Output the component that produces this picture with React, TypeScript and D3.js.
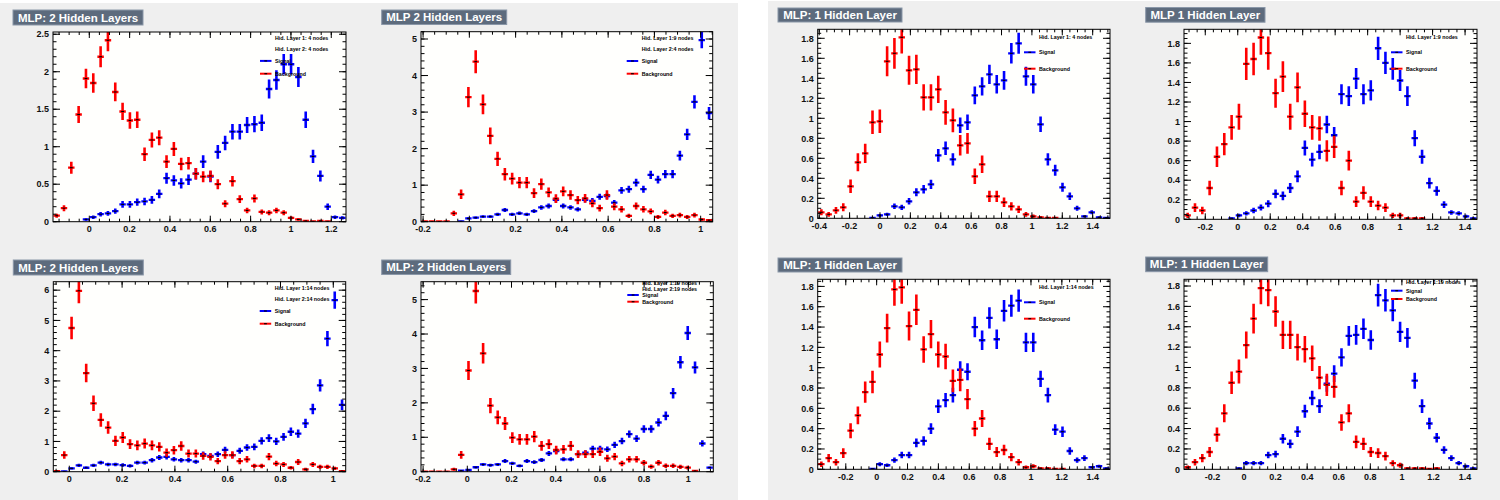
import React from "react";
import * as d3 from "d3";

// MLP response histograms: 40 bins each, normalised to unit area.
// Two hidden layers, 4 + 4 nodes
const mlp2x4Range = [-0.18, 1.273];
const mlp2x4Signal = [0, 0, 0, 0, 0.03, 0.06, 0.1, 0.11, 0.14, 0.23, 0.23, 0.26, 0.27, 0.29, 0.37, 0.58, 0.55, 0.51, 0.56, 0.64, 0.8, 0.6, 0.93, 1.05, 1.2, 1.2, 1.29, 1.3, 1.32, 1.77, 1.89, 2.1, 2.1, 1.93, 1.36, 0.87, 0.61, 0.2, 0.06, 0.05];
const mlp2x4Background = [0.08, 0.18, 0.72, 1.43, 1.91, 1.85, 2.2, 2.42, 1.73, 1.47, 1.35, 1.36, 0.9, 1.09, 1.12, 0.8, 0.97, 0.77, 0.78, 0.64, 0.6, 0.61, 0.5, 0.24, 0.54, 0.3, 0.15, 0.31, 0.13, 0.12, 0.15, 0.12, 0.05, 0.03, 0.01, 0.004, 0.01, 0.004, 0, 0];
const mlp2x4Entries = [3050, 3050];

// Two hidden layers, 9 + 4 nodes
const mlp2x9Range = [-0.209, 1.052];
const mlp2x9Signal = [0, 0, 0, 0, 0, 0.01, 0.09, 0.11, 0.14, 0.14, 0.2, 0.32, 0.2, 0.23, 0.2, 0.29, 0.39, 0.43, 0.6, 0.43, 0.39, 0.34, 0.6, 0.57, 0.68, 0.7, 0.52, 0.86, 0.89, 1.07, 0.89, 1.28, 1.15, 1.3, 1.3, 1.81, 2.39, 3.28, 4.97, 2.97];
const mlp2x9Background = [0.005, 0.005, 0.005, 0.005, 0.23, 0.75, 3.41, 4.38, 3.21, 2.35, 1.72, 1.3, 1.18, 1.07, 1.07, 0.78, 1.03, 0.8, 0.63, 0.83, 0.73, 0.59, 0.64, 0.5, 0.37, 0.73, 0.41, 0.34, 0.16, 0.43, 0.34, 0.28, 0.13, 0.25, 0.16, 0.18, 0.13, 0.18, 0.06, 0.04];
const mlp2x9Entries = [3170, 1410];

// Two hidden layers, 14 + 14 nodes
const mlp2x14Range = [-0.0606, 1.047];
const mlp2x14Signal = [0.005, 0.01, 0.11, 0.21, 0.13, 0.21, 0.3, 0.24, 0.24, 0.22, 0.19, 0.3, 0.3, 0.38, 0.47, 0.49, 0.41, 0.38, 0.38, 0.33, 0.58, 0.52, 0.58, 0.72, 0.55, 0.69, 0.8, 0.82, 1.02, 1.11, 1.0, 1.15, 1.32, 1.26, 1.6, 2.07, 2.85, 4.4, 5.67, 2.21];
const mlp2x14Background = [0.02, 0.55, 4.75, 5.98, 3.26, 2.26, 1.71, 1.46, 1.02, 1.13, 0.91, 0.87, 0.93, 0.87, 0.82, 0.63, 0.71, 0.85, 0.6, 0.6, 0.52, 0.49, 0.35, 0.55, 0.55, 0.35, 0.41, 0.19, 0.19, 0.5, 0.27, 0.24, 0.13, 0.32, 0.08, 0.24, 0.16, 0.16, 0.11, 0.02];
const mlp2x14Entries = [2510, 1250];

// Two hidden layers, 19 + 19 nodes
const mlp2x19Range = [-0.2095, 1.113];
const mlp2x19Signal = [0, 0, 0, 0, 0, 0.03, 0.05, 0.13, 0.21, 0.19, 0.21, 0.31, 0.24, 0.17, 0.31, 0.28, 0.34, 0.53, 0.6, 0.36, 0.36, 0.51, 0.55, 0.67, 0.67, 0.65, 0.78, 0.89, 1.09, 0.96, 1.24, 1.24, 1.43, 1.62, 2.28, 3.18, 4.03, 3.03, 0.82, 0.12];
const mlp2x19Background = [0.005, 0.005, 0.005, 0.005, 0.07, 0.49, 2.94, 5.25, 3.44, 1.92, 1.58, 1.4, 0.99, 0.94, 0.94, 1.02, 0.75, 0.8, 0.63, 0.65, 0.75, 0.51, 0.51, 0.51, 0.58, 0.39, 0.44, 0.24, 0.36, 0.36, 0.26, 0.15, 0.26, 0.17, 0.17, 0.14, 0.12, 0.02, 0, 0];
const mlp2x19Entries = [3030, 1180];

// One hidden layer, 4 nodes
const mlp1x4Range = [-0.41, 1.514];
const mlp1x4Signal = [0, 0, 0, 0, 0, 0, 0, 0.005, 0.03, 0.04, 0.12, 0.11, 0.17, 0.26, 0.29, 0.34, 0.63, 0.7, 0.59, 0.93, 0.96, 1.23, 1.32, 1.44, 1.34, 1.38, 1.65, 1.75, 1.42, 1.34, 0.94, 0.59, 0.48, 0.31, 0.22, 0.1, 0.02, 0.06, 0.01, 0.005];
const mlp1x4Background = [0.06, 0.04, 0.08, 0.11, 0.32, 0.56, 0.65, 0.96, 0.97, 1.57, 1.65, 1.81, 1.48, 1.49, 1.21, 1.21, 1.29, 1.06, 0.98, 0.73, 0.75, 0.42, 0.54, 0.22, 0.22, 0.16, 0.12, 0.09, 0.04, 0.02, 0.01, 0.004, 0.003, 0, 0, 0, 0, 0, 0, 0];
const mlp1x4Entries = [3260, 1450];

// One hidden layer, 9 nodes
const mlp1x9Range = [-0.331, 1.4735];
const mlp1x9Signal = [0, 0, 0, 0, 0, 0, 0.01, 0.04, 0.06, 0.09, 0.12, 0.16, 0.26, 0.24, 0.32, 0.44, 0.73, 0.61, 0.69, 0.97, 0.86, 1.28, 1.26, 1.44, 1.28, 1.32, 1.75, 1.6, 1.54, 1.42, 1.26, 0.83, 0.64, 0.37, 0.29, 0.15, 0.07, 0.06, 0.03, 0.01];
const mlp1x9Background = [0.04, 0.12, 0.09, 0.32, 0.64, 0.77, 0.94, 1.05, 1.59, 1.64, 1.86, 1.7, 1.29, 1.46, 1.05, 1.35, 1.08, 0.94, 0.93, 0.7, 0.74, 0.32, 0.6, 0.18, 0.27, 0.18, 0.14, 0.12, 0.04, 0.04, 0.01, 0.01, 0.01, 0, 0, 0, 0, 0, 0, 0];
const mlp1x9Entries = [2740, 1310];

// One hidden layer, 14 nodes
const mlp1x14Range = [-0.382, 1.512];
const mlp1x14Signal = [0, 0, 0, 0, 0, 0, 0, 0.005, 0.05, 0.04, 0.09, 0.14, 0.14, 0.26, 0.28, 0.4, 0.62, 0.68, 0.73, 0.98, 0.96, 1.4, 1.27, 1.49, 1.28, 1.56, 1.61, 1.66, 1.25, 1.25, 0.89, 0.73, 0.39, 0.37, 0.18, 0.09, 0.11, 0.02, 0.03, 0.01];
const mlp1x14Background = [0.05, 0.11, 0.07, 0.16, 0.38, 0.53, 0.76, 0.86, 1.13, 1.39, 1.77, 1.79, 1.41, 1.57, 1.18, 1.33, 1.13, 1.11, 0.87, 0.88, 0.69, 0.4, 0.5, 0.25, 0.17, 0.19, 0.12, 0.07, 0.02, 0.03, 0.01, 0.01, 0.003, 0.005, 0, 0, 0, 0, 0, 0];
const mlp1x14Entries = [2920, 1470];

// One hidden layer, 19 nodes
const mlp1x19Range = [-0.38, 1.4756];
const mlp1x19Signal = [0, 0, 0, 0, 0, 0, 0, 0.01, 0.06, 0.06, 0.06, 0.14, 0.15, 0.3, 0.25, 0.37, 0.57, 0.7, 0.62, 0.84, 0.94, 1.1, 1.31, 1.32, 1.38, 1.27, 1.71, 1.66, 1.56, 1.35, 1.29, 0.87, 0.62, 0.45, 0.31, 0.19, 0.11, 0.06, 0.03, 0.01];
const mlp1x19Background = [0.02, 0.07, 0.11, 0.17, 0.34, 0.55, 0.85, 0.96, 1.22, 1.48, 1.78, 1.76, 1.55, 1.32, 1.32, 1.2, 1.18, 1.09, 0.9, 0.83, 0.81, 0.46, 0.55, 0.27, 0.25, 0.17, 0.16, 0.13, 0.06, 0.04, 0.01, 0.01, 0.01, 0.003, 0.01, 0, 0, 0, 0, 0];
const mlp1x19Entries = [2980, 1500];

const SERIES_NAMES = ["Signal", "Background"];

const C_CANVAS = "#efefef";
const C_TITLE_BOX = "#5D6B7D";
const C_TITLE_BORDER = "#8a97a8";
const C_SIGNAL = "#0000ff";
const C_BACKGROUND = "#ff0000";
const FONT = "'Liberation Sans', Arial, Helvetica, sans-serif";

type PanelSpec = {
  title: string;
  titleBox: number[]; // x, y, w, h
  frame: number[]; // x0, y0, x1, y1
  range: number[];
  yMax: number;
  yStep: number;
  yMinor: number;
  signal: number[];
  background: number[];
  entries: number[];
  headers: string[];
  legendRows: number[]; // offsets from frame top
};

const PANELS: PanelSpec[] = [
  {
    title: "MLP: 2 Hidden Layers", titleBox: [13, 10, 130, 15], frame: [53, 32, 346, 221.7],
    range: mlp2x4Range, yMax: 2.53, yStep: 0.5, yMinor: 5,
    signal: mlp2x4Signal, background: mlp2x4Background, entries: mlp2x4Entries,
    headers: ["Hid. Layer 1: 4 nodes", "Hid. Layer 2: 4 nodes"], legendRows: [5.7, 17.3, 28.9, 41.7],
  },
  {
    title: "MLP 2 Hidden Layers", titleBox: [381.7, 10, 125, 14.5], frame: [421, 31.7, 712.7, 221.7],
    range: mlp2x9Range, yMax: 5.2, yStep: 1, yMinor: 5,
    signal: mlp2x9Signal, background: mlp2x9Background, entries: mlp2x9Entries,
    headers: ["Hid. Layer 1:9 nodes", "Hid. Layer 2:4 nodes"], legendRows: [6, 17.6, 29.3, 42],
  },
  {
    title: "MLP: 2 Hidden Layers", titleBox: [13.3, 260, 130, 15], frame: [53.3, 281.7, 345.7, 471.7],
    range: mlp2x14Range, yMax: 6.28, yStep: 1, yMinor: 5,
    signal: mlp2x14Signal, background: mlp2x14Background, entries: mlp2x14Entries,
    headers: ["Hid. Layer 1:14 nodes", "Hid. Layer 2:14 nodes"], legendRows: [6, 17.6, 29.3, 42],
  },
  {
    title: "MLP: 2 Hidden Layers", titleBox: [381.7, 260, 129, 14.5], frame: [421, 281.7, 713.3, 471.7],
    range: mlp2x19Range, yMax: 5.52, yStep: 1, yMinor: 5,
    signal: mlp2x19Signal, background: mlp2x19Background, entries: mlp2x19Entries,
    headers: ["Hid. Layer 1:19 nodes", "Hid. Layer 2:19 nodes"], legendRows: [1.6, 7.6, 13.3, 20],
  },
  {
    title: "MLP: 1 Hidden Layer", titleBox: [778, 8, 124, 14], frame: [817.7, 29.3, 1110, 218.3],
    range: mlp1x4Range, yMax: 1.89, yStep: 0.2, yMinor: 4,
    signal: mlp1x4Signal, background: mlp1x4Background, entries: mlp1x4Entries,
    headers: ["Hid. Layer 1: 4 nodes"], legendRows: [8, 23, 39.4],
  },
  {
    title: "MLP 1 Hidden Layer", titleBox: [1145.7, 7.5, 119.3, 14.7], frame: [1184, 29.3, 1477, 219.3],
    range: mlp1x9Range, yMax: 1.944, yStep: 0.2, yMinor: 4,
    signal: mlp1x9Signal, background: mlp1x9Background, entries: mlp1x9Entries,
    headers: ["Hid. Layer 1:9 nodes"], legendRows: [8, 23, 39.4],
  },
  {
    title: "MLP: 1 Hidden Layer", titleBox: [778, 258, 124, 14], frame: [817.7, 279.3, 1110, 469.3],
    range: mlp1x14Range, yMax: 1.87, yStep: 0.2, yMinor: 4,
    signal: mlp1x14Signal, background: mlp1x14Background, entries: mlp1x14Entries,
    headers: ["Hid. Layer 1:14 nodes"], legendRows: [8, 23, 39.4],
  },
  {
    title: "MLP: 1 Hidden Layer", titleBox: [1145.7, 257, 122, 14.7], frame: [1184, 279.3, 1477, 469.3],
    range: mlp1x19Range, yMax: 1.866, yStep: 0.2, yMinor: 4,
    signal: mlp1x19Signal, background: mlp1x19Background, entries: mlp1x19Entries,
    headers: ["Hid. Layer 1:19 nodes"], legendRows: [2.4, 11.4, 19.7],
  },
];

function ticksIn(lo: number, hi: number, step: number): number[] {
  const out: number[] = [];
  const start = Math.ceil(lo / step - 1e-6);
  for (let i = start; i * step <= hi + 1e-6; i++) out.push(+(i * step).toFixed(6));
  return out;
}

const fmt = (v: number) => String(+v.toFixed(2));

function Histogram({ values, entries, color, x, y, lo, bw }: any) {
  return (
    <g>
      {values.map((v: number, i: number) => {
        if (v <= 0) return null;
        // statistical uncertainty of a unit-area histogram with the given entries
        const err = Math.sqrt(v / (entries * bw));
        const b0 = lo + i * bw;
        const cx = x(b0 + bw / 2);
        const cy = y(v);
        return (
          <g key={i}>
            <line x1={x(b0 + 0.06 * bw)} x2={x(b0 + 0.94 * bw)} y1={cy} y2={cy} stroke={color} strokeWidth={2.3} />
            <line x1={cx} x2={cx} y1={y(v - err)} y2={y(v + err)} stroke={color} strokeWidth={2.6} />
            <rect x={cx - 1.4} y={cy - 0.55} width={2.8} height={1.1} fill="#000" />
          </g>
        );
      })}
    </g>
  );
}

function Panel({ p, id }: { p: PanelSpec; id: number }) {
  const [fx0, fy0, fx1, fy1] = p.frame;
  const x = d3.scaleLinear().domain(p.range).range([fx0, fx1]);
  const y = d3.scaleLinear().domain([0, p.yMax]).range([fy1, fy0]);
  const bw = (p.range[1] - p.range[0]) / p.signal.length;
  const xMajor = ticksIn(p.range[0], p.range[1], 0.2);
  const xMinor = ticksIn(p.range[0], p.range[1], 0.05);
  const yMajor = ticksIn(0, p.yMax, p.yStep);
  const yMinor = ticksIn(0, p.yMax, p.yStep / p.yMinor);
  const clipId = `frame-clip-${id}`;
  const [tx, ty, tw, th] = p.titleBox;

  const legX = fx1 - 71;
  const rows = p.legendRows.map((o) => fy0 + o);
  const nh = p.headers.length;
  const entriesRows = [
    { name: SERIES_NAMES[0], color: C_SIGNAL, yy: rows[nh] },
    { name: SERIES_NAMES[1], color: C_BACKGROUND, yy: rows[nh + 1] },
  ];

  return (
    <g>
      <defs>
        <clipPath id={clipId}>
          <rect x={fx0} y={fy0} width={fx1 - fx0} height={fy1 - fy0} />
        </clipPath>
      </defs>
      <rect x={fx0} y={fy0} width={fx1 - fx0} height={fy1 - fy0} fill="#fffffd" />
      <g clipPath={`url(#${clipId})`}>
        <Histogram values={p.signal} entries={p.entries[0]} color={C_SIGNAL} x={x} y={y} lo={p.range[0]} bw={bw} />
        <Histogram values={p.background} entries={p.entries[1]} color={C_BACKGROUND} x={x} y={y} lo={p.range[0]} bw={bw} />
      </g>

      {/* legend */}
      <g fontFamily={FONT} fontSize={5.3} fontWeight="bold" fill="#000">
        {p.headers.map((h, i) => (
          <text key={h} x={legX} y={rows[i]} dominantBaseline="central">{h}</text>
        ))}
        {entriesRows.map((r) => (
          <g key={r.name}>
            <line x1={fx1 - 86} x2={fx1 - 74.5} y1={r.yy} y2={r.yy} stroke={r.color} strokeWidth={2} />
            <rect x={(fx1 - 86 + fx1 - 74.5) / 2 - 1.4} y={r.yy - 0.55} width={2.8} height={1.1} fill="#000" />
            <text x={legX} y={r.yy} dominantBaseline="central">{r.name}</text>
          </g>
        ))}
      </g>

      {/* frame and ticks on all four sides */}
      <rect x={fx0} y={fy0} width={fx1 - fx0} height={fy1 - fy0} fill="none" stroke="#000" strokeWidth={1} />
      <g stroke="#000" strokeWidth={1}>
        {xMinor.map((t) => (
          <g key={"xm" + t}>
            <line x1={x(t)} x2={x(t)} y1={fy1} y2={fy1 - 3} />
            <line x1={x(t)} x2={x(t)} y1={fy0} y2={fy0 + 3} />
          </g>
        ))}
        {xMajor.map((t) => (
          <g key={"xM" + t}>
            <line x1={x(t)} x2={x(t)} y1={fy1} y2={fy1 - 6} />
            <line x1={x(t)} x2={x(t)} y1={fy0} y2={fy0 + 6} />
          </g>
        ))}
        {yMinor.map((t) => (
          <g key={"ym" + t}>
            <line x1={fx0} x2={fx0 + 3.5} y1={y(t)} y2={y(t)} />
            <line x1={fx1} x2={fx1 - 3.5} y1={y(t)} y2={y(t)} />
          </g>
        ))}
        {yMajor.map((t) => (
          <g key={"yM" + t}>
            <line x1={fx0} x2={fx0 + 7} y1={y(t)} y2={y(t)} />
            <line x1={fx1} x2={fx1 - 7} y1={y(t)} y2={y(t)} />
          </g>
        ))}
      </g>
      <g fontFamily={FONT} fontSize={9} fontWeight="bold" fill="#111">
        {xMajor.map((t) => (
          <text key={"xl" + t} x={x(t)} y={fy1 + 10.5} textAnchor="middle">{fmt(t)}</text>
        ))}
        {yMajor.map((t) => (
          <text key={"yl" + t} x={fx0 - 4} y={y(t) + 3.2} textAnchor="end">{fmt(t)}</text>
        ))}
      </g>

      {/* title box */}
      <rect x={tx} y={ty} width={tw} height={th} fill={C_TITLE_BOX} stroke={C_TITLE_BORDER} strokeWidth={1} />
      <text x={tx + tw / 2} y={ty + th / 2} dominantBaseline="central" textAnchor="middle"
        fontFamily={FONT} fontSize={11.5} fontWeight="bold" fill="#fff">{p.title}</text>
    </g>
  );
}

export default function App() {
  return (
    <svg width={1500} height={500} style={{ position: "absolute", left: 0, top: 0 }}>
      <rect x={0} y={0} width={1500} height={500} fill="#fff" />
      <rect x={0} y={3} width={738} height={497} fill={C_CANVAS} />
      <rect x={768} y={1} width={732} height={499} fill={C_CANVAS} />
      {PANELS.map((p, i) => (
        <Panel key={i} p={p} id={i} />
      ))}
    </svg>
  );
}
